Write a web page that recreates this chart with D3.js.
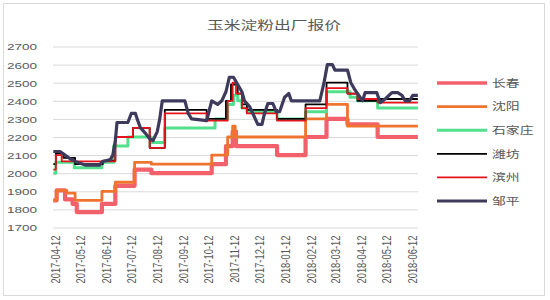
<!DOCTYPE html>
<html lang="zh">
<head>
<meta charset="utf-8">
<title>玉米淀粉出厂报价</title>
<script src="https://cdn.jsdelivr.net/npm/d3@7/dist/d3.min.js"></script>
<style>
  body { margin: 0; background: #fff; }
  text { fill: #595959; }
</style>
</head>
<body>
<svg width="550" height="300"></svg>
<script>
// tick labels
var xTicks = ["2017-04-12","2017-05-12","2017-06-12","2017-07-12","2017-08-12","2017-09-12","2017-10-12",
  "2017-11-12","2017-12-12","2018-01-12","2018-02-12","2018-03-12","2018-04-12","2018-05-12","2018-06-12"];
var yTicks = [1700,1800,1900,2000,2100,2200,2300,2400,2500,2600,2700];

// price change points [date, price]
var changchun = [["2017-04-10",1850],["2017-04-14",1905],["2017-04-24",1855],["2017-05-03",1830],["2017-05-08",1785],
  ["2017-06-07",1830],["2017-06-23",1930],["2017-07-16",2020],["2017-08-05",2000],["2017-10-16",2050],
  ["2017-11-02",2150],["2017-11-10",2230],["2017-11-14",2150],["2018-01-02",2100],["2018-02-05",2200],
  ["2018-03-02",2300],["2018-03-27",2270],["2018-05-02",2200],["2018-06-19",2200]];
var shenyang = [["2017-04-10",1850],["2017-04-14",1905],["2017-04-26",1890],["2017-05-06",1850],["2017-06-07",1900],
  ["2017-06-23",1950],["2017-07-16",2060],["2017-08-05",2050],["2017-10-16",2100],["2017-11-04",2200],
  ["2017-11-10",2260],["2017-11-13",2200],["2018-02-05",2300],["2018-03-02",2380],["2018-03-27",2260],
  ["2018-06-19",2260]];
var shijiazhuang = [["2017-04-10",2000],["2017-04-13",2060],["2017-05-05",2030],["2017-06-07",2060],["2017-06-21",2150],
  ["2017-07-08",2200],["2017-08-05",2170],["2017-08-21",2250],["2017-10-20",2300],["2017-11-04",2380],
  ["2017-11-11",2430],["2017-11-16",2400],["2017-11-21",2360],["2017-11-27",2340],["2018-01-02",2300],
  ["2018-02-05",2340],["2018-03-02",2450],["2018-03-30",2420],["2018-04-08",2400],["2018-05-02",2360],
  ["2018-06-19",2360]];
var weifang = [["2017-04-10",2050],["2017-04-13",2110],["2017-04-22",2085],["2017-05-06",2050],["2017-06-08",2070],
  ["2017-06-23",2200],["2017-07-14",2250],["2017-08-03",2140],["2017-08-21",2350],["2017-10-10",2300],
  ["2017-11-02",2400],["2017-11-08",2490],["2017-11-16",2440],["2017-11-21",2380],["2017-11-27",2350],
  ["2018-01-02",2300],["2018-02-05",2380],["2018-03-02",2500],["2018-03-27",2440],["2018-04-08",2400],
  ["2018-05-05",2410],["2018-06-19",2410]];
var binzhou = [["2017-04-10",2020],["2017-04-13",2100],["2017-04-20",2065],["2017-06-23",2200],["2017-07-14",2250],
  ["2017-08-03",2140],["2017-08-21",2330],["2017-10-10",2290],["2017-11-04",2400],["2017-11-10",2500],
  ["2017-11-14",2440],["2017-11-21",2360],["2017-11-27",2330],["2018-01-02",2290],["2018-02-05",2360],
  ["2018-03-02",2470],["2018-03-27",2440],["2018-04-08",2410],["2018-05-02",2390],["2018-06-19",2390]];
var zouping = [["2017-04-10",2120],["2017-04-18",2120],["2017-04-24",2100],["2017-04-30",2080],["2017-05-06",2065],
  ["2017-05-12",2055],["2017-05-18",2045],["2017-06-04",2045],["2017-06-08",2065],["2017-06-17",2075],
  ["2017-06-20",2100],["2017-06-23",2180],["2017-06-25",2280],["2017-07-08",2280],["2017-07-12",2330],
  ["2017-07-17",2330],["2017-07-19",2300],["2017-07-23",2250],["2017-07-29",2220],["2017-08-03",2190],
  ["2017-08-07",2180],["2017-08-12",2230],["2017-08-15",2300],["2017-08-18",2400],["2017-09-14",2400],
  ["2017-09-18",2330],["2017-09-22",2300],["2017-10-10",2290],["2017-10-16",2400],["2017-10-23",2380],
  ["2017-10-28",2400],["2017-11-02",2450],["2017-11-06",2530],["2017-11-11",2530],["2017-11-16",2490],
  ["2017-11-21",2450],["2017-11-24",2400],["2017-11-30",2370],["2017-12-05",2320],["2017-12-10",2270],
  ["2017-12-15",2270],["2017-12-18",2330],["2017-12-22",2385],["2017-12-28",2385],["2018-01-01",2340],
  ["2018-01-05",2340],["2018-01-11",2420],["2018-01-16",2440],["2018-01-19",2400],["2018-02-22",2400],
  ["2018-02-27",2500],["2018-03-03",2600],["2018-03-09",2600],["2018-03-12",2570],["2018-03-27",2570],
  ["2018-03-31",2500],["2018-04-05",2460],["2018-04-11",2420],["2018-04-14",2400],["2018-04-17",2445],
  ["2018-05-01",2445],["2018-05-05",2390],["2018-05-11",2410],["2018-05-19",2445],["2018-05-26",2445],
  ["2018-05-31",2430],["2018-06-04",2400],["2018-06-09",2400],["2018-06-13",2430],["2018-06-19",2430]];

var series = [
  {name: "长春", data: changchun, color: "#f2606b", width: 4.2, step: true},
  {name: "沈阳", data: shenyang, color: "#ee7430", width: 2.8, step: true},
  {name: "石家庄", data: shijiazhuang, color: "#52e08c", width: 3, step: true},
  {name: "潍坊", data: weifang, color: "#000000", width: 1.8, step: true},
  {name: "滨州", data: binzhou, color: "#e3141c", width: 1.8, step: true},
  {name: "邹平", data: zouping, color: "#3e3a5c", width: 3.2, step: false}
];

var svg = d3.select("svg");
var parse = d3.timeParse("%Y-%m-%d");
var numFont = "'Liberation Sans', Arial, sans-serif";
var cjkFont = "'Noto Sans CJK SC', sans-serif";

var left = 53, right = 418;

svg.append("rect")
    .attr("x", 3.5).attr("y", 3.5).attr("width", 541).attr("height", 292)
    .attr("fill", "#fff").attr("stroke", "#d9d9d9");

var x = d3.scaleTime()
    .domain([parse("2017-04-12"), parse("2018-06-12")])
    .range([55, 412]);

var y = d3.scaleLinear()
    .domain([1700, 2700])
    .range([227.5, 46.5]);

// gridlines + y labels
var yAxis = svg.append("g")
    .attr("transform", "translate(" + left + ",0)")
    .call(d3.axisLeft(y).tickValues(yTicks).tickSize(-(right - left)).tickFormat(d3.format("d")));
yAxis.select(".domain").remove();
yAxis.selectAll(".tick line").attr("stroke", "#d9d9d9");
yAxis.selectAll(".tick text")
    .attr("x", 0).attr("dy", "0.35em")
    .attr("transform", "translate(-16,0) scale(1.38,1)")
    .style("font-family", numFont).style("font-size", "9.8px")
    .style("fill", "#595959");

// x labels
var xAxis = svg.append("g")
    .attr("transform", "translate(0," + y(1700) + ")")
    .call(d3.axisBottom(x).tickValues(xTicks.map(parse)).tickSize(0).tickFormat(d3.timeFormat("%Y-%m-%d")));
xAxis.select(".domain").remove();
xAxis.selectAll(".tick text")
    .attr("x", 0).attr("y", 0).attr("dy", "0.35em")
    .attr("text-anchor", "end")
    .attr("transform", "translate(0,8) scale(1.35,1) rotate(-90)")
    .style("font-family", numFont).style("font-size", "9.4px")
    .style("fill", "#595959");

// lines
series.forEach(function(s) {
  var line = d3.line()
      .x(function(d) { return x(parse(d[0])); })
      .y(function(d) { return y(d[1]); })
      .curve(s.step ? d3.curveStepAfter : d3.curveLinear);
  svg.append("path")
      .datum(s.data)
      .attr("fill", "none")
      .attr("stroke", s.color)
      .attr("stroke-width", s.width)
      .attr("stroke-linejoin", "round")
      .attr("d", line);
});

// title
svg.append("text")
    .attr("transform", "translate(274,29.5) scale(1.4,1)")
    .attr("text-anchor", "middle")
    .style("font-family", cjkFont).style("font-size", "12px")
    .text("玉米淀粉出厂报价");

// legend
var legend = svg.selectAll(".legend")
    .data(series)
  .enter().append("g")
    .attr("class", "legend")
    .attr("transform", function(d, i) { return "translate(437," + (83 + i * 23.6) + ")"; });

legend.append("line")
    .attr("x1", 0).attr("x2", 50)
    .attr("stroke", function(d) { return d.color; })
    .attr("stroke-width", function(d) { return Math.min(d.width, 3.6); });

legend.append("text")
    .attr("transform", "translate(55,0) scale(1.32,1)")
    .attr("dy", "0.36em")
    .style("font-family", cjkFont).style("font-size", "10.5px")
    .text(function(d) { return d.name; });
</script>
</body>
</html>
